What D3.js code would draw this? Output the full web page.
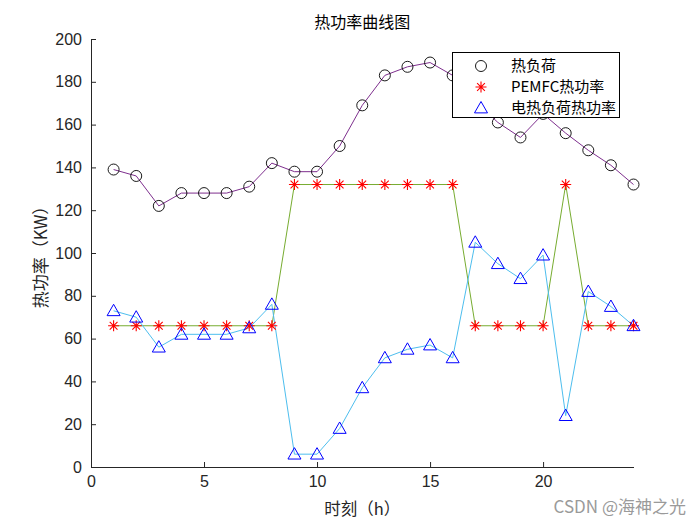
<!DOCTYPE html>
<html><head><meta charset="utf-8">
<script src="https://cdn.jsdelivr.net/npm/d3@7"></script>
<style>body{margin:0;background:#fff}svg{display:block}</style>
</head><body>
<svg id="c" width="700" height="525"></svg>
<script>
const hours = d3.range(1, 25);
const heatLoad = [139,136,122,128,128,128,131,142,138,138,150,169,183,187,189,183,171,161,154,165,156,148,141,132];
const pemfc = [66,66,66,66,66,66,66,66,132,132,132,132,132,132,132,132,66,66,66,66,132,66,66,66];
const elecHeat = [73,70,56,62,62,62,65,76,6,6,18,37,51,55,57,51,105,95,88,99,24,82,75,66];
const xTicks = [0,5,10,15,20];
const yTicks = d3.range(0, 201, 20);
const seriesNames = ["热负荷","PEMFC热功率","电热负荷热功率"];

const svg = d3.select("#c");
const L=91,R=633.5,T=39,B=467;
const x = d3.scaleLinear().domain([0,24]).range([L,R]);
const y = d3.scaleLinear().domain([0,200]).range([B,T]);
const numFont = "'Liberation Sans', Arial, sans-serif";
const cjk = "'Noto Sans CJK SC', sans-serif";

// axes
const xa = svg.append("g").attr("transform",`translate(0,${B})`)
  .call(d3.axisBottom(x).tickValues(xTicks).tickSizeInner(-5).tickSizeOuter(0).tickPadding(9));
const ya = svg.append("g").attr("transform",`translate(${L},0)`)
  .call(d3.axisLeft(y).tickValues(yTicks).tickSizeInner(-5).tickSizeOuter(0).tickPadding(9));
[xa,ya].forEach(a=>{
  a.select(".domain").attr("stroke","#262626");
  a.selectAll(".tick line").attr("stroke","#262626");
  a.selectAll("text").attr("fill","#262626").style("font-family",numFont).style("font-size","16px");
});

const series = [
  {vals:heatLoad, line:"#7E2F8E", marker:"circle", mc:"#000"},
  {vals:pemfc, line:"#77AC30", marker:"star", mc:"#ff0000"},
  {vals:elecHeat, line:"#4DBEEE", marker:"tri", mc:"#0000ff"}
];
const lineGen = d3.line().x((d,i)=>x(hours[i])).y(d=>y(d));

function drawMarker(g, type, cx, cy, color){
  if(type==="circle"){
    g.append("circle").attr("cx",cx).attr("cy",cy).attr("r",5.5).attr("fill","none").attr("stroke",color).attr("stroke-width",0.9);
  } else if(type==="tri"){
    const s=6.5;
    g.append("path").attr("d",`M${cx},${cy-s}L${cx+s},${cy+s*0.75}L${cx-s},${cy+s*0.75}Z`)
      .attr("fill","none").attr("stroke",color).attr("stroke-width",1);
  } else {
    const s=5.5, d=s*0.7071;
    g.append("path").attr("d",`M${cx-s},${cy}H${cx+s}M${cx},${cy-s}V${cy+s}M${cx-d},${cy-d}L${cx+d},${cy+d}M${cx-d},${cy+d}L${cx+d},${cy-d}`)
      .attr("stroke",color).attr("stroke-width",1.1).attr("fill","none");
  }
}

series.forEach(s=>{
  svg.append("path").datum(s.vals).attr("d",lineGen).attr("fill","none").attr("stroke",s.line).attr("stroke-width",1);
});
series.forEach(s=>{
  const g = svg.append("g");
  s.vals.forEach((v,i)=>drawMarker(g,s.marker,x(hours[i]),y(v),s.mc));
});

// title
svg.append("text").attr("x",(L+R)/2).attr("y",28).attr("text-anchor","middle")
  .style("font-family",cjk).style("font-size","16px").attr("fill","#000").text("热功率曲线图");
// axis labels
svg.append("text").attr("x",(L+R)/2).attr("y",515).attr("text-anchor","middle")
  .style("font-family",cjk).style("font-size","16.5px").attr("fill","#262626").text("时刻（h）");
svg.append("text").attr("transform",`translate(47,${(T+B)/2}) rotate(-90)`).attr("text-anchor","middle")
  .style("font-family",cjk).style("font-size","17px").attr("fill","#262626").text("热功率（KW）");

// legend
const lg = svg.append("g");
lg.append("rect").attr("x",452.5).attr("y",52.5).attr("width",167).attr("height",65)
  .attr("fill","#fff").attr("stroke","#000").attr("stroke-width",1);
series.forEach((s,i)=>{
  const cy = 66 + i*21;
  drawMarker(lg,s.marker,481,cy,s.mc);
  lg.append("text").attr("x",511).attr("y",cy+5).style("font-family",cjk).style("font-size","15px")
    .attr("fill","#000").text(seriesNames[i]);
});

// watermark
svg.append("text").attr("x",686).attr("y",513).attr("text-anchor","end")
  .style("font-family",cjk).style("font-size","17px").attr("fill","#9a9a9a").text("CSDN @海神之光");
</script>
</body></html>
